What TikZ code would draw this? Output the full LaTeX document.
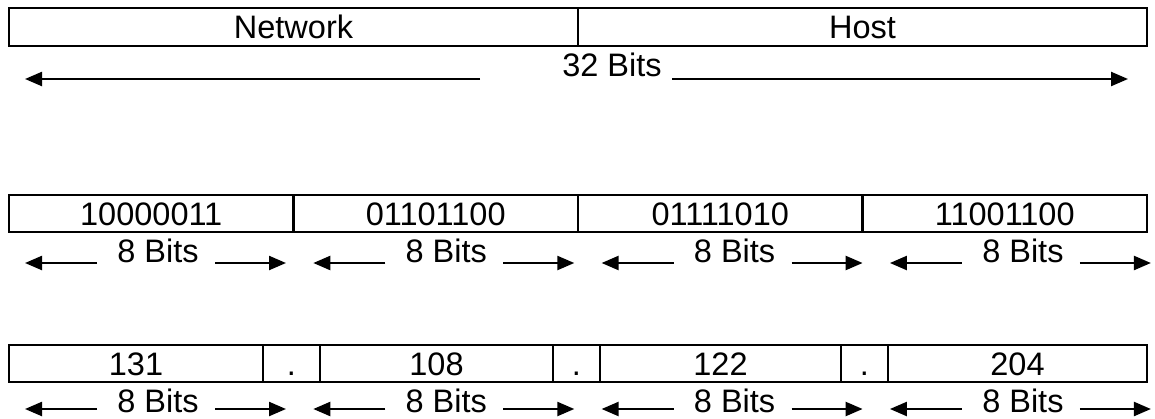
\documentclass[tikz,border=0pt]{standalone}
\usepackage{fontspec}
\setmainfont{Liberation Sans}
\usetikzlibrary{arrows.meta}

\tikzset{
  cell/.style={draw, line width=2.3pt, inner sep=0pt, text height=23.3pt, text depth=0pt,
               anchor=center, font=\fontsize{32.5}{38}\selectfont},
  bitlabel/.style={inner sep=0pt, anchor=base, font=\fontsize{32.5}{38}\selectfont},
  measure/.style={line width=2.3pt, -{Triangle[length=17pt,width=14pt]}}
}

% helper: a cell spanning x1..x2 with vertical centre cy and height h
\newcommand{\cellnode}[6]{%
  \node[cell, minimum width={#3-#2}, minimum height=#5] (#1) at ({(#2+#3)/2},#4) {#6};}

\begin{document}
\begin{tikzpicture}[x=1pt,y=-1pt]
\useasboundingbox (0,0) rectangle (1155,418);

% ---- 32-bit address: network / host split
\cellnode{net}{9}{578}{27}{38}{Network}
\cellnode{host}{578}{1147}{27}{38}{Host}

\node[bitlabel] (all) at (612,76) {32 Bits};
\coordinate (allL) at (480,79);
\coordinate (allLtip) at (25,79);
\coordinate (allR) at (672,79);
\coordinate (allRtip) at (1128,79);
\draw[measure] (allL) -- (allLtip);
\draw[measure] (allR) -- (allRtip);

% ---- binary octets
\cellnode{o1}{9}{293.5}{213.5}{37}{10000011}
\cellnode{o2}{293.5}{578}{213.5}{37}{01101100}
\cellnode{o3}{578}{862.5}{213.5}{37}{01111010}
\cellnode{o4}{862.5}{1147}{213.5}{37}{11001100}

% ---- dotted decimal
\cellnode{d1}{9}{263}{363.5}{37}{131}
\cellnode{p1}{263}{320}{363.5}{37}{.}
\cellnode{d2}{320}{553}{363.5}{37}{108}
\cellnode{p2}{553}{600}{363.5}{37}{.}
\cellnode{d3}{600}{841}{363.5}{37}{122}
\cellnode{p3}{841}{888}{363.5}{37}{.}
\cellnode{d4}{888}{1147}{363.5}{37}{204}

% ---- "8 Bits" measures under each octet (two rows)
\foreach \r/\ya/\yb in {a/263/262, b/409/412} {
  \foreach \k in {0,1,2,3} {
    \pgfmathsetmacro{\xs}{25+288.3*\k}
    \node[bitlabel] (lab\r\k) at ({\xs+133},\yb) {8 Bits};
    \coordinate (lt\r\k) at (\xs,\ya);
    \coordinate (le\r\k) at ({\xs+72},\ya);
    \coordinate (rs\r\k) at ({\xs+190},\ya);
    \coordinate (rt\r\k) at ({\xs+261},\ya);
    \draw[measure] (le\r\k) -- (lt\r\k);
    \draw[measure] (rs\r\k) -- (rt\r\k);
  }
}
\end{tikzpicture}
\end{document}
